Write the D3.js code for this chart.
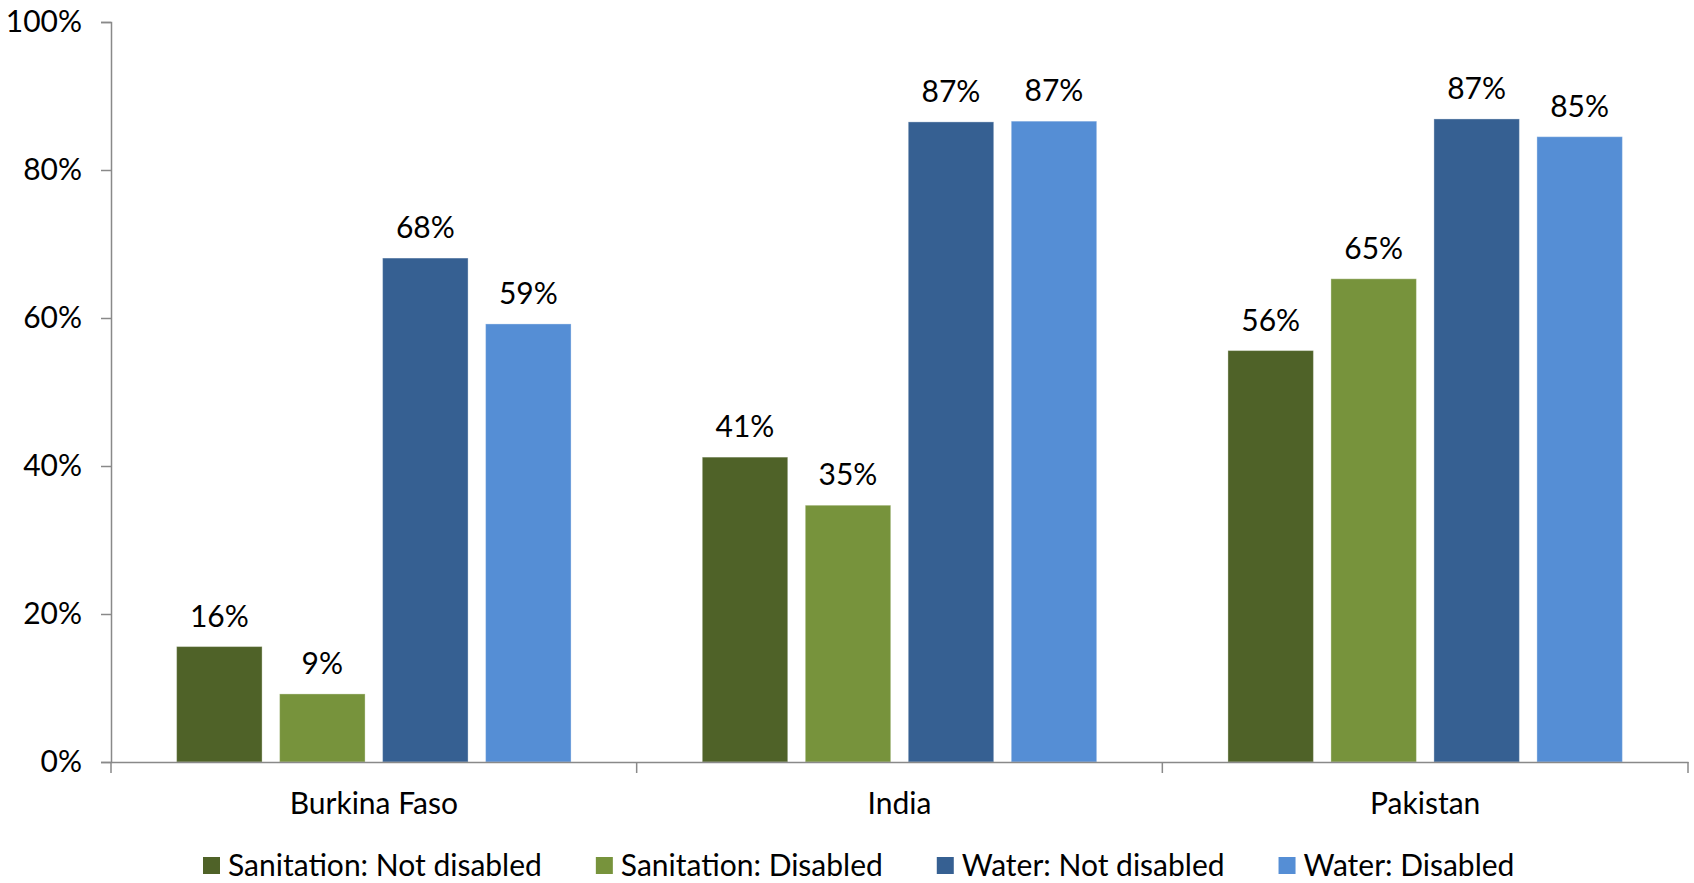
<!DOCTYPE html>
<html>
<head>
<meta charset="utf-8">
<script src="https://cdn.jsdelivr.net/npm/d3@7"></script>
<style>
  body { margin: 0; background: #fff; }
  svg text { font-family: Lato, "Open Sans", sans-serif; fill: #000; }
</style>
</head>
<body>
<svg id="chart" width="1694" height="883"></svg>
<script>
// data
const countries = ['Burkina Faso', 'India', 'Pakistan'];
const seriesNames = ['Sanitation: Not disabled', 'Sanitation: Disabled', 'Water: Not disabled', 'Water: Disabled'];
const seriesColors = ['#4f6228', '#77933c', '#366092', '#558ed5'];
const sanNot = [0.156, 0.412, 0.556];
const sanDis = [0.092, 0.347, 0.653];
const watNot = [0.681, 0.865, 0.869];
const watDis = [0.592, 0.866, 0.845];
const yTicks = [0, 0.2, 0.4, 0.6, 0.8, 1.0];

const seriesValues = [sanNot, sanDis, watNot, watDis];
const data = countries.map((c, i) => ({
    country: c,
    values: seriesNames.map((s, k) => ({series: s, value: seriesValues[k][i]}))
}));

const svg = d3.select('#chart');
const margin = {top: 22, right: 6, bottom: 121, left: 111};
const width = 1694, height = 883;
const innerWidth = width - margin.left - margin.right;
const innerHeight = height - margin.top - margin.bottom;
const fontSize = 30;

const g = svg.append('g')
    .attr('transform', `translate(${margin.left},${margin.top})`);

const x0 = d3.scaleBand()
    .domain(countries)
    .range([0, innerWidth])
    .padding(0);

const x1 = d3.scaleBand()
    .domain(seriesNames)
    .range([0, x0.bandwidth()])
    .paddingInner(0.17)
    .paddingOuter(0.637);

const yScale = d3.scaleLinear()
    .domain([0, 1])
    .range([innerHeight, 0]);

const color = d3.scaleOrdinal().domain(seriesNames).range(seriesColors);

// y axis
const yAxis = d3.axisLeft(yScale)
    .tickValues(yTicks)
    .tickFormat(d3.format('.0%'))
    .tickSize(10)
    .tickPadding(19);

const yAxisG = g.append('g').attr('class', 'yAxis').call(yAxis)
    .attr('font-size', fontSize)
    .attr('font-family', null);
yAxisG.select('.domain').attr('stroke', '#898989').attr('stroke-width', 1.5);
yAxisG.selectAll('.tick line').attr('stroke', '#898989').attr('stroke-width', 1.5);
yAxisG.selectAll('.tick text')
    .attr('font-size', fontSize)
    .attr('fill', '#000');

// bars
const groups = g.selectAll('.group').data(data)
  .enter().append('g')
    .attr('class', 'group')
    .attr('transform', d => `translate(${x0(d.country)},0)`);

groups.selectAll('rect').data(d => d.values)
  .enter().append('rect')
    .attr('x', d => x1(d.series))
    .attr('y', d => yScale(d.value))
    .attr('width', x1.bandwidth())
    .attr('height', d => innerHeight - yScale(d.value))
    .attr('fill', d => color(d.series))
    .attr('stroke', 'rgba(255,255,255,0.35)')
    .attr('stroke-width', 1);

groups.selectAll('.label').data(d => d.values)
  .enter().append('text')
    .attr('class', 'label')
    .attr('x', d => x1(d.series) + x1.bandwidth() / 2)
    .attr('y', d => yScale(d.value) - 20)
    .attr('text-anchor', 'middle')
    .attr('font-size', fontSize)
    .text(d => d3.format('.0%')(d.value));

// x axis
const xAxis = d3.axisBottom(x0)
    .tickSize(0)
    .tickPadding(31);

const xAxisG = g.append('g').attr('class', 'xAxis')
    .attr('transform', `translate(0,${innerHeight})`)
    .call(xAxis)
    .attr('font-size', fontSize)
    .attr('font-family', null);
xAxisG.select('.domain').attr('stroke', '#898989').attr('stroke-width', 1.5);
xAxisG.selectAll('.tick text')
    .attr('font-size', fontSize)
    .attr('fill', '#000');

// category boundary ticks
const bounds = countries.map(c => x0(c)).concat([x0.range()[1]]);
xAxisG.selectAll('.bound').data(bounds)
  .enter().append('line')
    .attr('class', 'bound')
    .attr('x1', d => d).attr('x2', d => d)
    .attr('y1', 0).attr('y2', 11)
    .attr('stroke', '#898989')
    .attr('stroke-width', 1.5);

// legend
const legend = svg.append('g').attr('class', 'legend')
    .attr('transform', 'translate(203,857)');
let lx = 0;
seriesNames.forEach((s, i) => {
    const item = legend.append('g').attr('transform', `translate(${lx},0)`);
    item.append('rect')
        .attr('width', 17).attr('height', 17)
        .attr('fill', seriesColors[i]);
    const t = item.append('text')
        .attr('x', 25)
        .attr('y', 19)
        .attr('font-size', fontSize)
        .text(s);
    lx += 25 + t.node().getComputedTextLength() + 54;
});
</script>
</body>
</html>
